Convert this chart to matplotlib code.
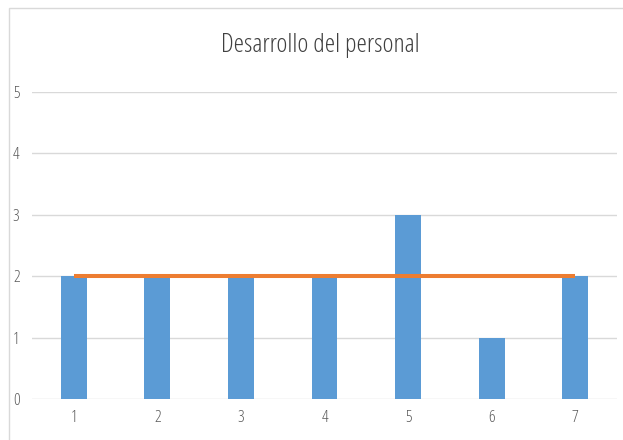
import matplotlib
matplotlib.use("Agg")
import matplotlib.pyplot as plt
from matplotlib.patches import Rectangle

categories = ["1", "2", "3", "4", "5", "6", "7"]
scores = [2, 2, 2, 2, 3, 1, 2]
target = [2, 2, 2, 2, 2, 2, 2]
y_ticks = [0, 1, 2, 3, 4, 5]
title = "Desarrollo del personal"

BAR_COLOR = "#5B9BD5"
LINE_COLOR = "#ED7D31"
TEXT_COLOR = "#595959"
TITLE_COLOR = "#404040"
GRID_COLOR = "#D9D9D9"

plt.rcParams["font.family"] = ["Open Sans", "DejaVu Sans"]
plt.rcParams["font.stretch"] = "condensed"

W, H = 623, 440
fig = plt.figure(figsize=(W / 100, H / 100), dpi=100)
fig.patch.set_facecolor("white")

# chart frame
fig.patches.append(Rectangle((9 / W, -0.1), 1.0, 1.1 - 8 / H,
                             transform=fig.transFigure, fill=False,
                             edgecolor=GRID_COLOR, linewidth=1.0))

ax = fig.add_axes([32 / W, 1 - 399 / H, (617 - 32) / W, (399 - 92) / H])
x = list(range(len(categories)))
ax.bar(x, scores, width=0.31, color=BAR_COLOR, zorder=2)
ax.plot(x, target, color=LINE_COLOR, linewidth=2.9, solid_capstyle="butt", zorder=3)

ax.set_xlim(-0.5, len(categories) - 0.5)
ax.set_ylim(0, 5)
ax.set_yticks(y_ticks)
ax.set_xticks(x)
ax.set_xticklabels(categories)
ax.yaxis.grid(True, color=GRID_COLOR, linewidth=1.0, zorder=0)
ax.set_axisbelow(True)
for s in ax.spines.values():
    s.set_visible(False)
ax.tick_params(axis="both", length=0, colors=TEXT_COLOR, labelsize=12)
ax.tick_params(axis="y", pad=9)
ax.tick_params(axis="x", pad=8)

fig.text(320 / W, 1 - 46 / H, title, ha="center", va="center",
         fontsize=18.8, color=TITLE_COLOR)

fig.savefig("out.png", dpi=100, facecolor="white")
